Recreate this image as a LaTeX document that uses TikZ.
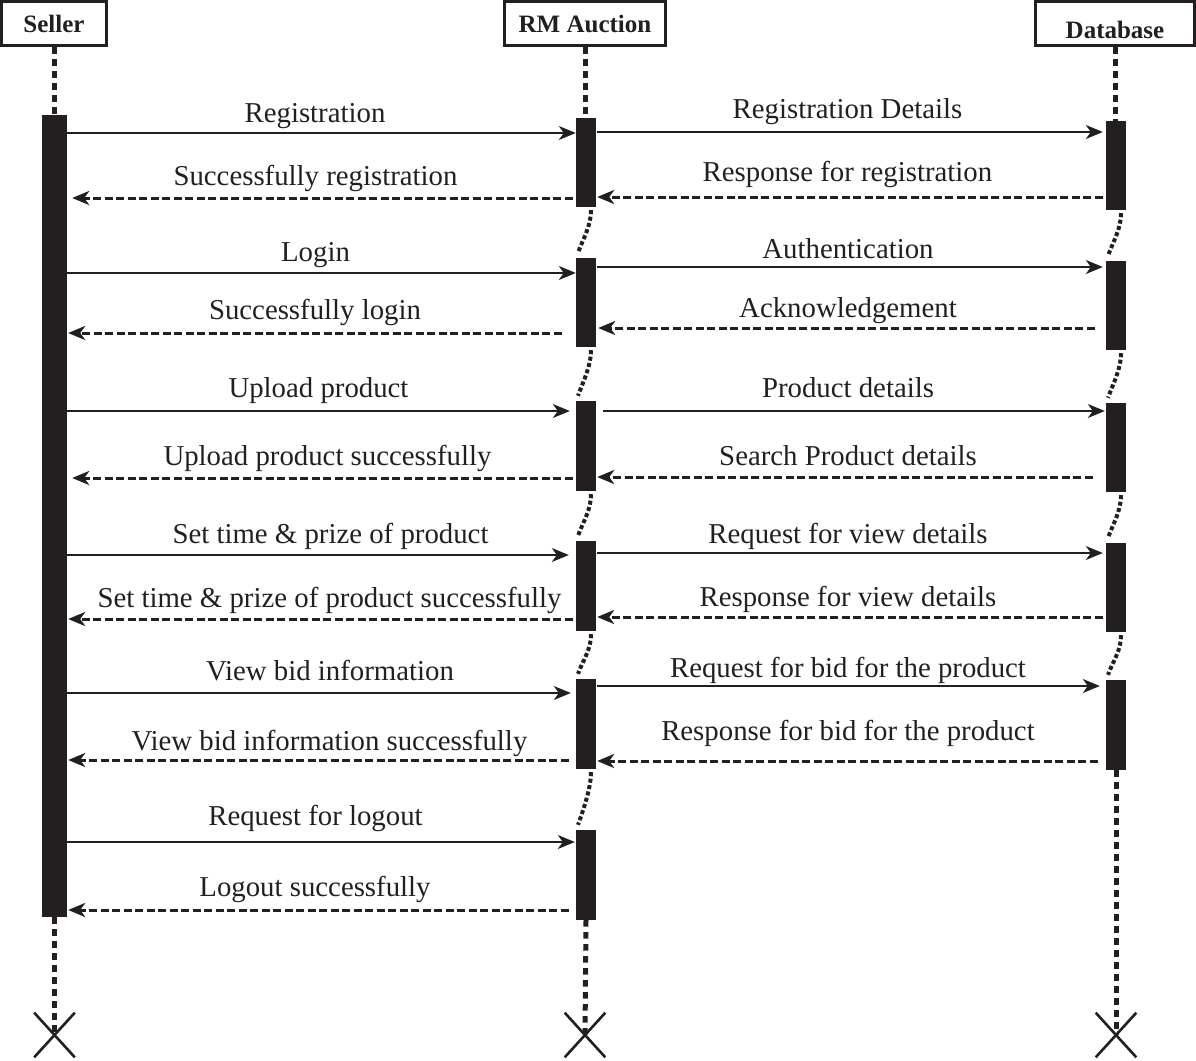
\documentclass[tikz,border=0pt]{standalone}
\usepackage{fontspec}
\setmainfont{Liberation Serif}
\usetikzlibrary{arrows.meta,calc,shapes.misc}
\definecolor{ink}{RGB}{35,31,32}
\tikzset{
  head/.style={draw=ink, line width=3pt, fill=white, inner sep=0pt, text=ink,
    font=\bfseries\fontsize{25}{30}\selectfont, text depth=0pt, minimum height=44pt},
  act/.style={fill=ink, draw=none, inner sep=0pt, minimum width=20pt},
  life/.style={draw=ink, line width=5pt, dash pattern=on 6.5pt off 5.5pt},
  wiggle/.style={draw=ink, line width=4pt, dash pattern=on 4pt off 2.5pt},
  msgtip/.style={-{Stealth[length=17pt,width=14pt,inset=5pt]}},
  call/.style={draw=ink, line width=1.5pt, msgtip},
  reply/.style={draw=ink, line width=3pt, dash pattern=on 8pt off 3.5pt, msgtip},
  lbl/.style={anchor=base, inner sep=0pt, text=ink, font=\fontsize{28.8}{34}\selectfont},
  endmark/.style={cross out, draw=ink, line width=2.6pt, minimum width=38pt,
    minimum height=42pt, inner sep=0pt},
}
\begin{document}
\begin{tikzpicture}[x=1pt,y=-1pt]
\useasboundingbox (0,0) rectangle (1196,1060);

% participants
\node[head, minimum width=105pt, text height=17pt] (seller) at (54,23.5) {Seller};
\node[head, minimum width=161pt, text height=17pt] (rm) at (585,23.5) {RM Auction};
\node[head, minimum width=159pt, text height=29pt] (db) at (1115,23.5) {Database};

% activation bars
\node[act, minimum width=25pt, minimum height=802pt] (S) at (54.5,516) {};
\node[act, minimum height=89pt] (r1) at (586,162.5) {};
\node[act, minimum height=89pt] (r2) at (586,302.5) {};
\node[act, minimum height=90pt] (r3) at (586,446) {};
\node[act, minimum height=90pt] (r4) at (586,586) {};
\node[act, minimum height=90pt] (r5) at (586,724) {};
\node[act, minimum height=90pt] (r6) at (586,875) {};
\node[act, minimum height=89pt] (d1) at (1116,165.5) {};
\node[act, minimum height=89pt] (d2) at (1116,305.5) {};
\node[act, minimum height=89pt] (d3) at (1116,447.5) {};
\node[act, minimum height=89pt] (d4) at (1116,587.5) {};
\node[act, minimum height=90pt] (d5) at (1116,725) {};

% destruction marks
\node[endmark] (xs) at (54.5,1035) {};
\node[endmark] (xr) at (585,1035) {};
\node[endmark] (xd) at (1116,1035) {};

% lifelines
\draw[life] (seller.south) -- (seller.south |- S.north);
\draw[life] (rm.south) -- (rm.south |- r1.north);
\draw[life] (db.south) -- (db.south |- d1.north);
\draw[life] (S.south) -- (xs.center);
\draw[life] (r6.south) -- (xr.center);
\draw[life] (d5.south) -- (xd.center);
\foreach \a/\b in {r1/r2, r2/r3, r3/r4, r4/r5, r5/r6, d1/d2, d2/d3, d3/d4, d4/d5}
  \draw[wiggle] ($(\a.south)+(5,3)$) .. controls +(0,16) and +(5,-14) .. ($(\b.north)+(-8,-5)$);

% Seller <-> RM Auction
\draw[call] (S.east |- 0,133) -- (r1.west |- 0,133);
\node[lbl] (l1) at (315,122) {Registration};
\draw[reply, shorten <=3pt, shorten >=5pt] (r1.west |- 0,198) -- (S.east |- 0,198);
\node[lbl] (l2) at (315.5,185) {Successfully registration};
\draw[call] (S.east |- 0,273) -- (r2.west |- 0,273);
\node[lbl] (l3) at (315.5,261) {Login};
\draw[reply, shorten <=14pt, shorten >=1pt] (r2.west |- 0,333) -- (S.east |- 0,333);
\node[lbl] (l4) at (315,319) {Successfully login};
\draw[call, shorten >=6pt] (S.east |- 0,411) -- (r3.west |- 0,411);
\node[lbl] (l5) at (318.5,397) {Upload product};
\draw[reply, shorten <=3pt, shorten >=5pt] (r3.west |- 0,478) -- (S.east |- 0,478);
\node[lbl] (l6) at (327.5,465) {Upload product successfully};
\draw[call, shorten >=7pt] (S.east |- 0,555) -- (r4.west |- 0,555);
\node[lbl] (l7) at (330.5,543) {Set time \& prize of product};
\draw[reply, shorten <=3pt, shorten >=1pt] (r4.west |- 0,619) -- (S.east |- 0,619);
\node[lbl] (l8) at (329.5,607) {Set time \& prize of product successfully};
\draw[call, shorten >=5pt] (S.east |- 0,693) -- (r5.west |- 0,693);
\node[lbl] (l9) at (330,680) {View bid information};
\draw[reply, shorten <=7pt, shorten >=1pt] (r5.west |- 0,760) -- (S.east |- 0,760);
\node[lbl] (l10) at (329.5,750) {View bid information successfully};
\draw[call, shorten >=1pt] (S.east |- 0,842) -- (r6.west |- 0,842);
\node[lbl] (l11) at (315.5,825) {Request for logout};
\draw[reply, shorten <=7pt, shorten >=1pt] (r6.west |- 0,910) -- (S.east |- 0,910);
\node[lbl] (l12) at (315,896) {Logout successfully};

% RM Auction <-> Database
\draw[call, shorten <=1pt, shorten >=3pt] (r1.east |- 0,132) -- (d1.west |- 0,132);
\node[lbl] (m1) at (847.5,118) {Registration Details};
\draw[reply, shorten <=3pt, shorten >=1pt] (d1.west |- 0,197) -- (r1.east |- 0,197);
\node[lbl] (m2) at (847.5,181) {Response for registration};
\draw[call, shorten <=1pt, shorten >=3pt] (r2.east |- 0,267) -- (d2.west |- 0,267);
\node[lbl] (m3) at (848,258) {Authentication};
\draw[reply, shorten <=11pt, shorten >=2pt] (d2.west |- 0,328) -- (r2.east |- 0,328);
\node[lbl] (m4) at (848,317) {Acknowledgement};
\draw[call, shorten <=7pt, shorten >=1pt] (r3.east |- 0,411) -- (d3.west |- 0,411);
\node[lbl] (m5) at (848,397) {Product details};
\draw[reply, shorten <=13pt, shorten >=1pt] (d3.west |- 0,477) -- (r3.east |- 0,477);
\node[lbl] (m6) at (848,465) {Search Product details};
\draw[call, shorten <=1pt, shorten >=3pt] (r4.east |- 0,553) -- (d4.west |- 0,553);
\node[lbl] (m7) at (848,543) {Request for view details};
\draw[reply, shorten <=3pt, shorten >=1pt] (d4.west |- 0,617) -- (r4.east |- 0,617);
\node[lbl] (m8) at (848,606) {Response for view details};
\draw[call, shorten <=1pt, shorten >=6pt] (r5.east |- 0,686) -- (d5.west |- 0,686);
\node[lbl] (m9) at (848,677) {Request for bid for the product};
\draw[reply, shorten <=8pt, shorten >=1pt] (d5.west |- 0,761) -- (r5.east |- 0,761);
\node[lbl] (m10) at (848,740) {Response for bid for the product};
\end{tikzpicture}
\end{document}
